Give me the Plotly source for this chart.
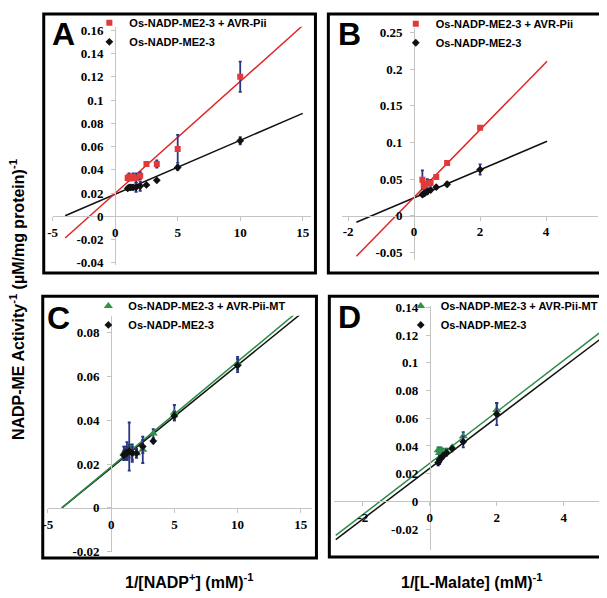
import plotly.graph_objects as go

# ---------------- data ----------------
nadp_inv = [1.0, 1.11, 1.25, 1.43, 1.67, 2.0, 2.5, 3.33, 5.0, 10.0]
malate_inv = [0.25, 0.29, 0.33, 0.4, 0.5, 0.67, 1.0, 2.0]

# Panel A (1/[NADP+])
A_pii = [0.033, 0.034, 0.033, 0.034, 0.033, 0.035, 0.045, 0.045, 0.058, 0.120]
A_pii_err = [0.002, 0.003, 0.002, 0.003, 0.004, 0.003, 0.001, 0.003, 0.012, 0.013]
A_me = [0.024, 0.025, 0.025, 0.025, 0.025, 0.026, 0.027, 0.031, 0.042, 0.065]
A_me_err = [0.001, 0.001, 0.002, 0.002, 0.004, 0.004, 0.001, 0.001, 0.002, 0.003]
A_fit_x = [-4.0, 15.0]
A_fit_pii = [-0.0186, 0.164]
A_fit_me = [0.0005, 0.0885]

# Panel B (1/[L-Malate])
B_pii = [0.049, 0.042, 0.040, 0.044, 0.045, 0.053, 0.072, 0.120]
B_pii_err = [0.013, 0.004, 0.005, 0.006, 0.004, 0.002, 0.002, 0.002]
B_me = [0.029, 0.030, 0.031, 0.033, 0.035, 0.039, 0.043, 0.063]
B_me_err = [0.002, 0.002, 0.002, 0.003, 0.002, 0.002, 0.003, 0.007]
B_fit_x = [-1.75, 4.03]
B_fit_pii = [-0.055, 0.2106]
B_fit_me = [-0.0088, 0.1015]

# Panel C (1/[NADP+])
C_mt = [0.025, 0.025, 0.026, 0.028, 0.025, 0.025, 0.0265, 0.034, 0.0435, 0.066]
C_mt_err = [0.003, 0.003, 0.004, 0.011, 0.004, 0.002, 0.006, 0.002, 0.0035, 0.003]
C_me = [0.024, 0.025, 0.025, 0.026, 0.025, 0.025, 0.028, 0.0305, 0.042, 0.065]
C_me_err = [0.002, 0.002, 0.003, 0.003, 0.003, 0.002, 0.003, 0.001, 0.002, 0.003]
C_fit_x = [-3.9, 15.0]
C_fit_mt = [0.0, 0.0908]
C_fit_me = [0.0, 0.0886]

# Panel D (1/[L-Malate])
D_mt = [0.037, 0.035, 0.037, 0.036, 0.036, 0.039, 0.047, 0.066]
D_mt_err = [0.002, 0.003, 0.002, 0.002, 0.002, 0.001, 0.003, 0.005]
D_me = [0.028, 0.030, 0.031, 0.033, 0.035, 0.038, 0.043, 0.063]
D_me_err = [0.002, 0.003, 0.002, 0.002, 0.002, 0.001, 0.004, 0.008]
D_fit_x = [-2.81, 5.2]
D_fit_mt = [-0.0245, 0.124]
D_fit_me = [-0.0275, 0.119]

# tick labels
AC_xticks = [-5, 0, 5, 10, 15]
BD_xticks = [-2, 0, 2, 4]
A_yticks = [-0.04, -0.02, 0, 0.02, 0.04, 0.06, 0.08, 0.1, 0.12, 0.14, 0.16]
B_yticks = [-0.05, 0, 0.05, 0.1, 0.15, 0.2, 0.25]
C_yticks = [-0.02, 0, 0.02, 0.04, 0.06, 0.08]
D_yticks = [-0.02, 0, 0.02, 0.04, 0.06, 0.08, 0.1, 0.12, 0.14]

NAME_ME = "Os-NADP-ME2-3"
NAME_PII = "Os-NADP-ME2-3 + AVR-Pii"
NAME_MT = "Os-NADP-ME2-3 + AVR-Pii-MT"

# ---------------- styling / layout ----------------
PAGE_W, PAGE_H = 607, 598
OFF = 8  # default body margin of the html page
W, H = PAGE_W - OFF, PAGE_H - OFF

RED = "#e23a3a"
RED_LINE = "#e02525"
GREEN = "#2e9446"
GREEN_LINE = "#2e8b46"
BLACK = "#111111"
ERR = "#2a3680"
AXIS = "#c4c4c4"


def fx(px):
    return (px - OFF) / W


def fy(py):
    return 1 - (py - OFF) / H


def lab(v):
    return "%g" % v


panels = {
    # name: (x px range, x data range, y px range (top,bottom), y data range)
    "A": ((48, 309), (-5, 15.7), (17, 263), (-0.042, 0.163)),
    "B": ((339.3, 597.5), (-2.2, 5.56), (18, 258), (-0.0607, 0.2563)),
    "C": ((43.25, 309.7), (-5, 15.9), (315, 558.5), (-0.02, 0.0878)),
    "D": ((331.7, 603.7), (-2.862, 5.197), (305, 557), (-0.0352, 0.141)),
}
yt = {"A": A_yticks, "B": B_yticks, "C": C_yticks, "D": D_yticks}
xt = {"A": AC_xticks, "B": BD_xticks, "C": AC_xticks, "D": BD_xticks}

fig = go.Figure()
tickfont = dict(family="Liberation Serif, Times New Roman, serif", size=13,
                color="black", weight="bold")

layout_axes = {}
for i, key in enumerate(["A", "B", "C", "D"], start=1):
    (xp0, xp1), xr, (yp0, yp1), yr = panels[key]
    xdom = [fx(xp0), fx(xp1)]
    ydom = [fy(yp1), fy(yp0)]
    xpos = ydom[0] + (0 - yr[0]) / (yr[1] - yr[0]) * (ydom[1] - ydom[0])
    ypos = xdom[0] + (0 - xr[0]) / (xr[1] - xr[0]) * (xdom[1] - xdom[0])
    sfx = "" if i == 1 else str(i)
    layout_axes["xaxis" + sfx] = dict(
        domain=xdom, range=list(xr), anchor="free", position=xpos,
        showline=True, linecolor=AXIS, linewidth=1, ticks="outside",
        ticklen=4, tickcolor=AXIS, showgrid=False, zeroline=False,
        tickvals=xt[key], ticktext=[lab(v) for v in xt[key]],
        tickfont=tickfont, ticklabelstandoff=0)
    layout_axes["yaxis" + sfx] = dict(
        domain=ydom, range=list(yr), anchor="free", position=ypos,
        showline=True, linecolor=AXIS, linewidth=1, ticks="outside",
        ticklen=4, tickcolor=AXIS, showgrid=False, zeroline=False,
        tickvals=yt[key], ticktext=[lab(v) for v in yt[key]],
        tickfont=tickfont, ticklabelstandoff=5)


def add_panel(i, xs, fit_x, s1, s1e, f1, name1, sym1, col1, lcol1,
              s2, s2e, f2, name2, legend):
    sfx = "" if i == 1 else str(i)
    xa, ya = "x" + sfx, "y" + sfx
    fig.add_trace(go.Scatter(x=fit_x, y=f2, mode="lines", xaxis=xa, yaxis=ya,
                             line=dict(color=BLACK, width=1.5), showlegend=False,
                             hoverinfo="skip"))
    fig.add_trace(go.Scatter(x=fit_x, y=f1, mode="lines", xaxis=xa, yaxis=ya,
                             line=dict(color=lcol1, width=1.5), showlegend=False,
                             hoverinfo="skip"))
    fig.add_trace(go.Scatter(x=xs, y=s1, mode="markers", name=name1, xaxis=xa, yaxis=ya,
                             marker=dict(symbol=sym1, size=6 if sym1 == "square" else 8,
                                         color=col1),
                             error_y=dict(type="data", array=s1e, color=ERR,
                                          thickness=1.8, width=1.5),
                             legend=legend, legendrank=1))
    fig.add_trace(go.Scatter(x=xs, y=s2, mode="markers", name=name2, xaxis=xa, yaxis=ya,
                             marker=dict(symbol="diamond", size=6, color=BLACK),
                             error_y=dict(type="data", array=s2e, color=ERR,
                                          thickness=1.8, width=1.5),
                             legend=legend, legendrank=2))


add_panel(1, nadp_inv, A_fit_x, A_pii, A_pii_err, A_fit_pii, NAME_PII, "square", RED, RED_LINE,
          A_me, A_me_err, A_fit_me, NAME_ME, "legend")
add_panel(2, malate_inv, B_fit_x, B_pii, B_pii_err, B_fit_pii, NAME_PII, "square", RED, RED_LINE,
          B_me, B_me_err, B_fit_me, NAME_ME, "legend2")
add_panel(3, nadp_inv, C_fit_x, C_mt, C_mt_err, C_fit_mt, NAME_MT, "triangle-up", GREEN, GREEN_LINE,
          C_me, C_me_err, C_fit_me, NAME_ME, "legend3")
add_panel(4, malate_inv, D_fit_x, D_mt, D_mt_err, D_fit_mt, NAME_MT, "triangle-up", GREEN, GREEN_LINE,
          D_me, D_me_err, D_fit_me, NAME_ME, "legend4")

legfont = dict(family="Liberation Sans, Arial, sans-serif", size=11, color="black", weight="bold")


def leg(text_x_px, row1_px):
    return dict(x=fx(text_x_px - 43), y=fy(row1_px - 21), xanchor="left",
                yanchor="top", bgcolor="rgba(0,0,0,0)", font=legfont,
                traceorder="normal", itemclick=False)


layout_axes["legend"] = leg(128, 19)
layout_axes["legend2"] = leg(437, 20)
layout_axes["legend3"] = leg(127, 311)
layout_axes["legend4"] = leg(442, 311)

boxes = [(39, 4, 313, 271), (326, 4, 603, 271), (38, 295, 314, 565), (327, 295, 604, 564)]
shapes = [dict(type="rect", xref="paper", yref="paper",
               x0=fx(b[0]), x1=fx(b[2]), y0=fy(b[3]), y1=fy(b[1]),
               line=dict(color="black", width=3), fillcolor="rgba(0,0,0,0)")
          for b in boxes]

letters = [("A", 59, 25), ("B", 347.5, 24), ("C", 54, 317.5), ("D", 347, 316)]
annotations = [dict(text=t, x=fx(px), y=fy(py), xref="paper", yref="paper",
                    showarrow=False, xanchor="center", yanchor="middle",
                    font=dict(family="Liberation Sans, Arial, sans-serif", size=32,
                              color="black", weight="bold"))
               for t, px, py in letters]
titlefont = dict(family="Liberation Sans, Arial, sans-serif", size=16, color="black", weight="bold")
annotations.append(dict(text="NADP-ME Activity<sup>-1</sup> (µM/mg protein)<sup>-1</sup>",
                        x=fx(12), y=fy(298), xref="paper", yref="paper", textangle=-90,
                        showarrow=False, xanchor="center", yanchor="middle", font=titlefont))
annotations.append(dict(text="1/[NADP<sup>+</sup>] (mM)<sup>-1</sup>",
                        x=fx(186), y=fy(589), xref="paper", yref="paper",
                        showarrow=False, xanchor="center", yanchor="middle", font=titlefont))
annotations.append(dict(text="1/[L-Malate] (mM)<sup>-1</sup>",
                        x=fx(471), y=fy(589), xref="paper", yref="paper",
                        showarrow=False, xanchor="center", yanchor="middle", font=titlefont))

fig.update_layout(width=W, height=H, margin=dict(l=0, r=0, t=0, b=0),
                  paper_bgcolor="white", plot_bgcolor="white",
                  shapes=shapes, annotations=annotations, **layout_axes)

fig.write_html("out.html")
